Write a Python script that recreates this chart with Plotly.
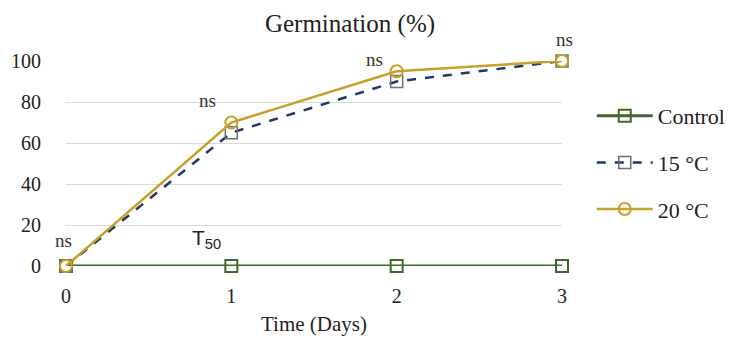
import plotly.graph_objects as go

days = [0, 1, 2, 3]
control = [0, 0, 0, 0]
t15 = [0, 65, 90, 100]
t20 = [0, 70, 95, 100]
ns_text = ["ns", "ns", "ns", "ns"]
ytick_vals = [0, 20, 40, 60, 80, 100]

SERIF = "Liberation Serif"
GREEN = "#3d6a2b"
NAVY = "#1f3864"
GOLD = "#c6a028"

fig = go.Figure()
fig.add_trace(go.Scatter(x=days, y=control, name="Control", mode="lines+markers",
                         line=dict(color=GREEN, width=3),
                         marker=dict(symbol="square-open", size=12, color=GREEN, line=dict(width=2)),
                         legendgroup="a", cliponaxis=False))
fig.add_trace(go.Scatter(x=days, y=t15, name="15 °C", mode="lines+markers",
                         line=dict(color=NAVY, width=2.5, dash="dash"),
                         marker=dict(symbol="square-open", size=12, color="#6e6e6e", line=dict(width=1.5)),
                         legendgroup="b", cliponaxis=False))
fig.add_trace(go.Scatter(x=days, y=t20, name="20 °C", mode="lines+markers",
                         line=dict(color=GOLD, width=2.5),
                         marker=dict(symbol="circle-open", size=12, color=GOLD, line=dict(width=2)),
                         legendgroup="c", cliponaxis=False))

# "ns" labels sit just above the top point of each day (pixel offsets are styling)
ns_shift = [(-3, 26), (-24, 22), (-22, 12), (2, 22)]
for xv, yv, txt, (dx, dy) in zip(days, t20, ns_text, ns_shift):
    fig.add_annotation(x=xv, y=yv, text=txt, showarrow=False, xshift=dx, yshift=dy,
                       font=dict(family=SERIF, size=19, color="#333"))

fig.add_annotation(x=0.85, y=13, text="T<sub>50</sub>", showarrow=False,
                   font=dict(family="Liberation Sans", size=21, color="#222"))

fig.update_layout(
    width=735, height=339,
    margin=dict(l=58, r=179, t=53, b=81),
    paper_bgcolor="white", plot_bgcolor="white",
    title=dict(text="Germination (%)", x=342/735, xanchor="center", y=1 - 15/339, yanchor="middle",
               font=dict(family=SERIF, size=25, color="#222")),
    font=dict(family=SERIF, color="#222"),
    xaxis=dict(range=[0, 3], tickvals=days, showgrid=False, zeroline=False, showline=False,
               automargin=False, tickfont=dict(size=20), ticklabelstandoff=16,
               title=dict(text="Time (Days)", font=dict(size=21), standoff=10)),
    yaxis=dict(range=[0, 100], tickvals=ytick_vals, showgrid=True, gridcolor="#d9d9d9", gridwidth=1.2,
               zeroline=False, showline=False, automargin=False,
               tickfont=dict(size=20), ticklabelstandoff=24),
    legend=dict(x=1.06, y=0.834, xanchor="left", yanchor="top", traceorder="grouped",
                tracegroupgap=15, itemwidth=56, font=dict(family=SERIF, size=22, color="#222"),
                bgcolor="rgba(0,0,0,0)"),
)

fig.write_html("out.html")
